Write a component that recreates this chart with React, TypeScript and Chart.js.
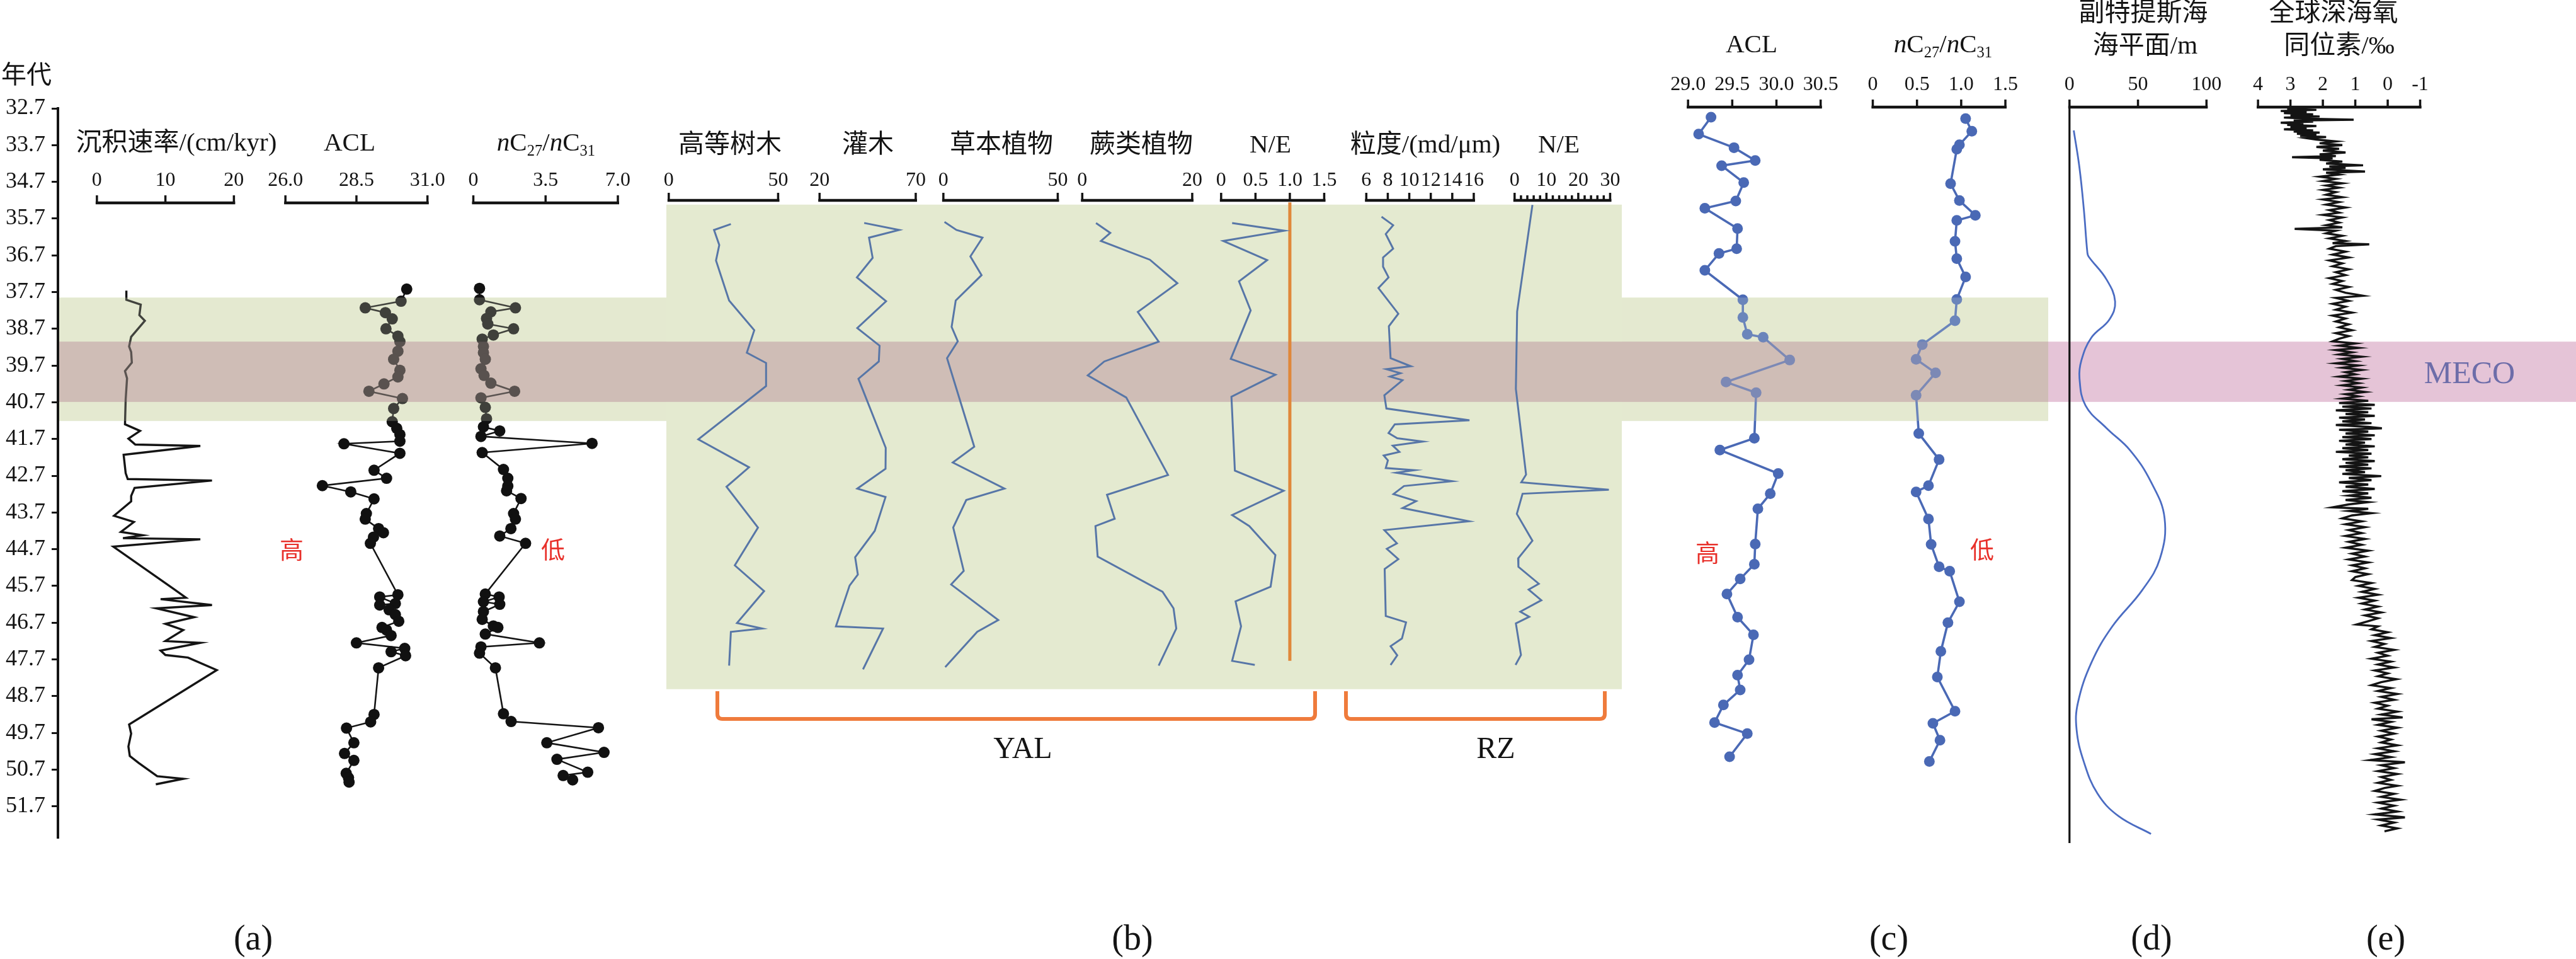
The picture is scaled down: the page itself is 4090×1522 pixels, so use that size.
import React, { useEffect, useRef } from "react";
import { Chart, registerables } from "chart.js";

Chart.register(...registerables);

const W = 4090;
const H = 1522;
const SERIF = '"Liberation Serif", "Times New Roman", "Noto Sans CJK SC", serif';

// ---------------- data (age in Ma, value) ----------------
const ageTicks = [32.7, 33.7, 34.7, 35.7, 36.7, 37.7, 38.7, 39.7, 40.7, 41.7, 42.7, 43.7, 44.7, 45.7, 46.7, 47.7, 48.7, 49.7, 50.7, 51.7];

const greenBand = [37.85, 41.21];
const mecoBand = [39.05, 40.69];
const yalBlock = [35.32, 48.51];

// (a) sedimentation rate, cm/kyr
const sedRate: [number, number][] = [
  [37.66, 4.3], [37.91, 4.3], [38.04, 6.4], [38.33, 6.2], [38.48, 7.0], [38.92, 5.0], [39.18, 4.7], [39.33, 5.0],
  [39.62, 5.1], [39.85, 4.1], [40.05, 4.4], [40.62, 4.2], [41.30, 4.1], [41.48, 6.3], [41.69, 4.6], [41.85, 5.6],
  [41.89, 15.1], [42.13, 3.9], [42.63, 4.2], [42.79, 4.5], [42.83, 16.8], [43.03, 5.5], [43.25, 5.0], [43.40, 5.0],
  [43.79, 2.5], [43.96, 5.4], [44.23, 3.5], [44.32, 6.7], [44.40, 3.8], [44.43, 15.1], [44.63, 2.4], [45.78, 11.2],
  [46.02, 13.0], [46.06, 9.3], [46.22, 16.8], [46.31, 8.7], [46.55, 14.2], [46.73, 10.0], [46.90, 12.6], [47.20, 10.0],
  [47.25, 15.1], [47.46, 9.3], [47.58, 10.0], [47.65, 13.3], [47.99, 17.5], [49.47, 4.7], [49.72, 5.0], [50.07, 4.6],
  [50.33, 4.8], [50.52, 6.1], [50.88, 8.8], [50.95, 12.6], [51.10, 8.6],
];

// (a) ACL
const aclA: [number, number][] = [
  [37.62, 30.27], [37.95, 30.07], [38.13, 28.81], [38.26, 29.52], [38.43, 29.76], [38.70, 29.54], [38.90, 29.96],
  [39.05, 30.03], [39.31, 29.96], [39.53, 29.81], [39.83, 30.03], [40.01, 29.96], [40.20, 29.47], [40.40, 28.94],
  [40.60, 30.12], [40.87, 29.81], [41.23, 29.76], [41.41, 29.92], [41.58, 30.03], [41.76, 30.03], [41.83, 28.06],
  [42.09, 30.03], [42.55, 29.12], [42.77, 29.56], [42.97, 27.30], [43.14, 28.30], [43.33, 29.12], [43.73, 28.85],
  [43.88, 28.81], [44.14, 29.28], [44.25, 29.45], [44.37, 29.10], [44.54, 28.99], [45.94, 29.96], [46.00, 29.32],
  [46.18, 29.87], [46.22, 29.32], [46.35, 29.65], [46.48, 29.87], [46.66, 29.99], [46.83, 29.40], [46.90, 29.56],
  [47.05, 29.72], [47.25, 28.50], [47.40, 30.20], [47.49, 29.72], [47.60, 30.23], [47.93, 29.28], [49.20, 29.12],
  [49.40, 29.00], [49.57, 28.15], [49.97, 28.41], [50.26, 28.08], [50.45, 28.41], [50.80, 28.14], [50.92, 28.22],
  [51.04, 28.24],
];

// (a) nC27/nC31
const ncA: [number, number][] = [
  [37.60, 0.30], [37.91, 0.30], [38.13, 2.04], [38.24, 0.85], [38.42, 0.64], [38.57, 0.70], [38.70, 1.95],
  [38.87, 0.97], [38.98, 0.43], [39.18, 0.49], [39.35, 0.49], [39.53, 0.58], [39.79, 0.37], [39.97, 0.52],
  [40.18, 0.85], [40.40, 2.00], [40.58, 0.37], [40.84, 0.58], [41.15, 0.64], [41.37, 0.49], [41.48, 1.28],
  [41.63, 0.37], [41.82, 5.75], [42.07, 0.43], [42.53, 1.46], [42.77, 1.67], [42.98, 1.67], [43.11, 1.61],
  [43.32, 2.31], [43.73, 1.95], [43.88, 2.04], [44.14, 1.82], [44.34, 1.28], [44.54, 2.53], [45.92, 0.58],
  [46.00, 1.25], [46.13, 0.49], [46.20, 1.28], [46.40, 0.49], [46.61, 0.43], [46.79, 0.97], [46.83, 1.19],
  [47.01, 0.58], [47.25, 3.20], [47.36, 0.37], [47.53, 0.30], [47.93, 1.07], [49.18, 1.46], [49.39, 1.83],
  [49.56, 6.06], [49.97, 3.56], [50.23, 6.33], [50.42, 4.05], [50.77, 5.54], [50.86, 4.35], [50.98, 4.81],
];

// (b) YAL pollen (%)
const trees: [number, number][] = [
  [35.85, 28.4], [36.01, 20.7], [36.42, 23.1], [36.84, 21.6], [37.93, 27.6], [38.74, 39.1], [39.35, 35.7],
  [39.63, 44.5], [40.26, 44.5], [41.71, 13.5], [42.47, 36.7], [43.00, 26.4], [44.11, 40.8], [45.14, 30.2],
  [45.84, 43.6], [46.71, 31.2], [46.86, 42.7], [46.95, 28.4], [47.87, 27.6],
];
const shrubs: [number, number][] = [
  [35.82, 43.2], [36.01, 61.4], [36.22, 45.7], [36.77, 47.6], [37.30, 39.4], [37.95, 54.6], [38.68, 39.6],
  [39.16, 51.2], [39.59, 50.8], [40.06, 40.2], [41.94, 54.4], [42.51, 54.3], [43.05, 39.6], [43.28, 54.3],
  [44.20, 48.7], [44.92, 38.5], [45.39, 39.9], [45.69, 35.6], [46.80, 28.5], [46.86, 53.0], [47.97, 42.6],
];
const herbs: [number, number][] = [
  [35.79, 0.5], [36.01, 5.7], [36.22, 17.1], [36.73, 11.8], [37.24, 16.7], [37.93, 5.4], [38.65, 3.6],
  [39.04, 6.3], [39.50, 1.6], [41.91, 13.5], [42.34, 4.1], [43.05, 26.7], [43.36, 10.0], [44.11, 4.3],
  [45.29, 8.9], [45.66, 3.4], [46.63, 24.0], [46.95, 14.8], [47.91, 0.8],
];
const ferns: [number, number][] = [
  [35.82, 2.5], [36.09, 5.1], [36.31, 3.4], [36.82, 12.3], [37.46, 17.3], [38.24, 10.1], [39.05, 13.9],
  [39.59, 4.0], [39.97, 1.0], [40.57, 8.0], [42.68, 15.6], [43.22, 4.5], [43.87, 5.9], [44.07, 2.4],
  [44.90, 2.8], [45.86, 14.6], [46.31, 16.6], [46.86, 17.1], [47.87, 13.9],
];
const neYal: [number, number][] = [
  [35.82, 0.16], [36.03, 0.92], [36.31, 0.03], [36.83, 0.67], [37.41, 0.26], [38.20, 0.43], [39.52, 0.14],
  [39.95, 0.79], [40.55, 0.15], [42.56, 0.20], [43.11, 0.91], [43.77, 0.16], [44.07, 0.41], [44.86, 0.79],
  [45.72, 0.72], [46.12, 0.21], [46.80, 0.29], [47.74, 0.16], [47.85, 0.49],
];
const neRefLine: [number, number][] = [[35.26, 1.0], [47.74, 1.0]];

// (b) RZ grain size (md/um) and N/E
const grain: [number, number][] = [
  [35.65, 7.42], [35.88, 8.50], [36.12, 7.81], [36.52, 8.50], [36.76, 7.56], [37.01, 7.56], [37.30, 8.07],
  [37.59, 7.13], [38.29, 8.98], [38.63, 8.10], [39.50, 8.26], [39.72, 10.15], [39.80, 7.87], [39.91, 9.18],
  [40.00, 8.20], [40.10, 9.37], [40.51, 7.68], [40.87, 7.87], [41.19, 15.60], [41.30, 8.65], [41.54, 8.07],
  [41.68, 8.88], [41.77, 11.26], [41.88, 8.46], [42.05, 9.08], [42.15, 7.62], [42.28, 8.01], [42.49, 7.81],
  [42.55, 10.48], [42.62, 8.79], [42.85, 13.99], [42.98, 9.51], [43.20, 8.53], [43.39, 10.64], [43.58, 9.37],
  [43.94, 15.55], [44.18, 7.68], [44.54, 8.85], [44.69, 7.91], [44.97, 8.98], [45.24, 7.71], [46.52, 7.81],
  [46.69, 9.70], [47.13, 9.32], [47.34, 8.26], [47.59, 8.88], [47.85, 8.26],
];
const neRz: [number, number][] = [
  [35.33, 5.6], [38.23, 0.8], [40.34, 0.4], [42.67, 3.6], [42.88, 2.1], [43.08, 29.6], [43.19, 2.5],
  [43.74, 0.7], [44.47, 5.6], [44.95, 1.1], [45.18, 1.2], [45.64, 7.6], [45.80, 4.4], [46.09, 8.4],
  [46.40, 1.8], [46.54, 4.6], [46.72, 0.4], [47.58, 2.0], [47.85, 0.3],
];

// (c) ACL and nC27/nC31
const aclC: [number, number][] = [
  [32.94, 29.26], [33.40, 29.12], [33.77, 29.52], [34.12, 29.76], [34.26, 29.38], [34.72, 29.63], [35.22, 29.54],
  [35.42, 29.19], [35.97, 29.56], [36.52, 29.55], [36.65, 29.35], [37.11, 29.19], [37.91, 29.62], [38.39, 29.62],
  [38.85, 29.67], [38.93, 29.85], [39.55, 30.15], [40.15, 29.43], [40.44, 29.77], [41.68, 29.75], [42.00, 29.36],
  [42.64, 30.02], [43.19, 29.93], [43.60, 29.79], [44.56, 29.76], [45.11, 29.75], [45.51, 29.59], [45.92, 29.44],
  [46.55, 29.56], [47.03, 29.74], [47.71, 29.69], [48.13, 29.56], [48.53, 29.59], [48.94, 29.40], [49.42, 29.30],
  [49.72, 29.67], [50.35, 29.47],
];
const ncC: [number, number][] = [
  [32.98, 1.05], [33.32, 1.12], [33.69, 0.98], [33.81, 0.95], [34.75, 0.88], [35.21, 0.98], [35.61, 1.16],
  [35.75, 0.95], [36.32, 0.93], [36.79, 0.95], [37.29, 1.05], [37.90, 0.95], [38.48, 0.93], [39.13, 0.56],
  [39.53, 0.49], [39.90, 0.71], [40.51, 0.49], [41.55, 0.52], [42.26, 0.75], [42.97, 0.63], [43.14, 0.49],
  [43.88, 0.63], [44.57, 0.66], [45.18, 0.75], [45.30, 0.87], [46.13, 0.98], [46.70, 0.85], [47.48, 0.77],
  [48.18, 0.73], [49.11, 0.93], [49.44, 0.68], [49.90, 0.76], [50.48, 0.64],
];

// (d) Paratethys sea level, m
const seaLevel: [number, number][] = [
  [33.30, 3.1], [34.32, 7.3], [35.46, 10.5], [36.61, 13.0], [36.73, 13.9], [37.35, 26.9], [37.96, 33.3],
  [38.45, 29.1], [38.94, 16.0], [39.56, 8.7], [40.05, 7.3], [40.79, 11.7], [41.40, 26.9], [42.01, 44.3],
  [42.87, 59.5], [43.85, 69.4], [44.96, 66.0], [45.82, 53.0], [46.80, 31.3], [47.78, 16.1], [48.89, 6.1],
  [49.62, 5.2], [50.48, 10.4], [51.35, 20.4], [51.96, 35.6], [52.45, 59.5],
];
const seaAxis: [number, number][] = [[32.67, 0], [52.70, 0]];

// (e) global deep-sea d18O, per mil
const d18O: [number, number][] = [
  [32.68, 2.6], [32.71, 3.1], [32.74, 2.2], [32.77, 3.3], [32.80, 2.5], [32.83, 3.2], [32.86, 2.3], [32.89, 3.0],
  [32.92, 2.1], [32.95, 3.2], [32.98, 2.4], [33.01, 1.05], [33.03, 2.9], [33.06, 2.3], [33.09, 3.3], [33.12, 2.6],
  [33.15, 3.1], [33.18, 2.2], [33.21, 3.0], [33.24, 2.5], [33.27, 3.2], [33.30, 2.3], [33.33, 2.9], [33.36, 2.1],
  [33.39, 2.8], [33.42, 2.2], [33.45, 2.7], [33.48, 1.9], [33.51, 2.5],
  [33.55, 2.2], [33.60, 1.6], [33.65, 2.1], [33.70, 1.4], [33.75, 2.2], [33.80, 1.5], [33.85, 2.0], [33.90, 1.3],
  [33.95, 2.1], [34.00, 1.6], [34.03, 2.95], [34.06, 1.7], [34.10, 2.1], [34.15, 1.4], [34.20, 1.9], [34.25, 0.76],
  [34.28, 1.8], [34.32, 1.3], [34.36, 2.0], [34.42, 0.70], [34.45, 1.9], [34.50, 1.5], [34.56, 2.1], [34.62, 1.6],
  [34.68, 2.0], [34.74, 1.4], [34.80, 1.9], [34.86, 1.5], [34.92, 2.0], [34.98, 1.6],
  [35.05, 1.9], [35.12, 1.4], [35.18, 2.0], [35.25, 1.5], [35.32, 1.9], [35.40, 1.3], [35.47, 1.8], [35.54, 1.5],
  [35.60, 2.0], [35.67, 1.4], [35.74, 1.8], [35.81, 1.5], [35.88, 1.9], [35.94, 1.4], [35.98, 2.87], [36.03, 1.6],
  [36.10, 1.9], [36.17, 1.4], [36.24, 1.8], [36.31, 1.3], [36.37, 1.7], [36.40, 0.57], [36.45, 1.6],
  [36.52, 1.8], [36.60, 1.3], [36.68, 1.7], [36.76, 1.2], [36.84, 1.8], [36.92, 1.4], [37.00, 1.7], [37.08, 1.2],
  [37.16, 1.6], [37.24, 1.3], [37.32, 1.8], [37.40, 1.4], [37.48, 1.7], [37.56, 1.2], [37.64, 1.6], [37.72, 1.3],
  [37.80, 0.76], [37.86, 1.6], [37.94, 1.2], [38.02, 1.7], [38.10, 1.3], [38.18, 1.6], [38.26, 1.1], [38.34, 1.7],
  [38.42, 1.3], [38.50, 1.6], [38.58, 1.2], [38.66, 1.5], [38.74, 1.1], [38.82, 1.6], [38.90, 1.2], [38.97, 1.5],
  [39.04, 1.7], [39.10, 1.0], [39.16, 1.5], [39.22, 0.9], [39.28, 1.6], [39.34, 1.1], [39.40, 1.5], [39.46, 0.8],
  [39.52, 1.4], [39.58, 1.0], [39.64, 1.6], [39.70, 0.9], [39.76, 1.4], [39.82, 0.8], [39.88, 1.3], [39.94, 1.0],
  [40.00, 1.5], [40.06, 0.8], [40.12, 1.3], [40.18, 0.9], [40.24, 1.4], [40.30, 0.8], [40.36, 1.2], [40.42, 0.7],
  [40.48, 1.3], [40.54, 0.9], [40.60, 1.4], [40.66, 0.6],
  [40.72, 1.5], [40.77, 0.4], [40.82, 1.4], [40.87, 0.5], [40.92, 1.6], [40.97, 0.6], [41.02, 1.3], [41.07, 0.4],
  [41.12, 1.5], [41.17, 0.7], [41.22, 1.4], [41.27, 0.5], [41.32, 1.6], [41.37, 0.6], [41.41, 0.18], [41.45, 1.5],
  [41.50, 0.6], [41.55, 1.3], [41.60, 0.4], [41.65, 1.4], [41.70, 0.5], [41.75, 1.5], [41.80, 0.7], [41.85, 1.3],
  [41.90, 0.4], [41.95, 1.4], [42.00, 0.6], [42.05, 1.6], [42.10, 0.5], [42.15, 1.2], [42.20, 0.6], [42.25, 1.4],
  [42.30, 0.4], [42.35, 1.3], [42.40, 0.6], [42.45, 1.5], [42.50, 0.5], [42.55, 1.3], [42.60, 0.7], [42.65, 1.4],
  [42.71, 0.20], [42.76, 1.2], [42.82, 0.5], [42.88, 1.5], [42.94, 0.6], [43.00, 1.3], [43.06, 0.4], [43.12, 1.4],
  [43.18, 0.6], [43.24, 1.2], [43.30, 0.5], [43.36, 1.3], [43.42, 0.6], [43.48, 1.2], [43.56, 1.7], [43.60, 0.6],
  [43.66, 1.2], [43.72, 0.5], [43.78, 1.1],
  [43.86, 1.4], [43.94, 0.8], [44.02, 1.3], [44.10, 0.7], [44.18, 1.2], [44.26, 0.8], [44.34, 1.3], [44.42, 0.7],
  [44.50, 1.2], [44.58, 0.8], [44.66, 1.3], [44.74, 0.6], [44.82, 1.1], [44.90, 0.7], [44.98, 1.2], [45.06, 0.6],
  [45.14, 1.1], [45.22, 0.7], [45.30, 1.1], [45.38, 0.6], [45.46, 1.0],
  [45.54, 1.1], [45.62, 0.5], [45.70, 0.9], [45.78, 0.4], [45.86, 0.8], [45.94, 0.3], [46.02, 0.9], [46.10, 0.4],
  [46.18, 0.8], [46.26, 0.3], [46.34, 0.7], [46.42, 0.2], [46.50, 0.7], [46.58, 0.3], [46.66, 0.6], [46.75, 0.96],
  [46.80, 0.3],
  [46.88, 0.5], [46.96, 0.0], [47.04, 0.4], [47.12, -0.1], [47.20, 0.5], [47.28, 0.1], [47.36, 0.4], [47.44, -0.2],
  [47.52, 0.3], [47.60, 0.0], [47.68, 0.5], [47.76, -0.1], [47.84, 0.3], [47.92, -0.2], [48.00, 0.4], [48.08, 0.0],
  [48.16, 0.3], [48.24, -0.27], [48.32, 0.2],
  [48.40, 0.5], [48.48, -0.1], [48.56, 0.3], [48.64, -0.3], [48.72, 0.2], [48.80, -0.2], [48.88, 0.4], [48.96, 0.0],
  [49.04, 0.3], [49.12, -0.3], [49.20, 0.2], [49.28, -0.46], [49.33, 0.5], [49.40, -0.1], [49.48, 0.3], [49.56, -0.3],
  [49.64, 0.2], [49.72, -0.2], [49.80, 0.3], [49.88, -0.1], [49.96, 0.2], [50.04, -0.3],
  [50.12, 0.3], [50.20, -0.2], [50.28, 0.4], [50.36, -0.1], [50.44, 0.54], [50.50, -0.53], [50.58, 0.2], [50.66, -0.2],
  [50.74, 0.3], [50.82, -0.3], [50.90, 0.2], [50.98, -0.1], [51.06, 0.3], [51.14, -0.3], [51.20, 0.1],
  [51.28, 0.4], [51.36, -0.2], [51.44, 0.2], [51.52, -0.4], [51.60, 0.3], [51.68, -0.2], [51.76, 0.2], [51.84, -0.3],
  [51.92, 0.4], [52.00, -0.53], [52.06, 0.3], [52.14, -0.2], [52.22, 0.2], [52.30, -0.3], [52.38, 0.1],
];

// ---------------- tick values / labels ----------------
const sedTicks = [0, 10, 20];
const sedTickLabels = ["0", "10", "20"];
const aclATicks = [26, 28.5, 31];
const aclATickLabels = ["26.0", "28.5", "31.0"];
const ncATicks = [0, 3.5, 7];
const ncATickLabels = ["0", "3.5", "7.0"];
const treeTicks = [0, 50];
const treeTickLabels = ["0", "50"];
const shrubTicks = [20, 70];
const shrubTickLabels = ["20", "70"];
const herbTicks = [0, 50];
const herbTickLabels = ["0", "50"];
const fernTicks = [0, 20];
const fernTickLabels = ["0", "20"];
const neYalTicks = [0, 0.5, 1, 1.5];
const neYalTickLabels = ["0", "0.5", "1.0", "1.5"];
const grainTicks = [6, 8, 10, 12, 14, 16];
const grainTickLabels = ["6", "8", "10", "12", "14", "16"];
const neRzTicks = [0, 10, 20, 30];
const neRzTickLabels = ["0", "10", "20", "30"];
const neRzMinor = [2, 4, 6, 8, 12, 14, 16, 18, 22, 24, 26, 28];
const aclCTicks = [29, 29.5, 30, 30.5];
const aclCTickLabels = ["29.0", "29.5", "30.0", "30.5"];
const ncCTicks = [0, 0.5, 1, 1.5];
const ncCTickLabels = ["0", "0.5", "1.0", "1.5"];
const seaTicks = [0, 50, 100];
const seaTickLabels = ["0", "50", "100"];
const oTicks = [4, 3, 2, 1, 0, -1];
const oTickLabels = ["4", "3", "2", "1", "0", "-1"];

// ---------------- layout ----------------
const AX_LEFT = 92;
const Y_TOP = 172;
const Y_BOTTOM = 1329;
const Y_MIN = 32.7;
const Y_MAX = 52.545;

type Col = {
  id: string; v0: number; v1: number; px0: number; px1: number;
  axisY: number; labelY: number; ticks: number[]; labels: string[]; minor?: number[];
};

const cols: Col[] = [
  { id: "xSed", v0: 0, v1: 20, px0: 154, px1: 372, axisY: 322, labelY: 287, ticks: sedTicks, labels: sedTickLabels },
  { id: "xAclA", v0: 26, v1: 31, px0: 454, px1: 680, axisY: 322, labelY: 287, ticks: aclATicks, labels: aclATickLabels },
  { id: "xNcA", v0: 0, v1: 7, px0: 753, px1: 983, axisY: 322, labelY: 287, ticks: ncATicks, labels: ncATickLabels },
  { id: "xTree", v0: 0, v1: 50, px0: 1064, px1: 1238, axisY: 318, labelY: 287, ticks: treeTicks, labels: treeTickLabels },
  { id: "xShrub", v0: 20, v1: 70, px0: 1304, px1: 1457, axisY: 318, labelY: 287, ticks: shrubTicks, labels: shrubTickLabels },
  { id: "xHerb", v0: 0, v1: 50, px0: 1501, px1: 1683, axisY: 318, labelY: 287, ticks: herbTicks, labels: herbTickLabels },
  { id: "xFern", v0: 0, v1: 20, px0: 1722, px1: 1897, axisY: 318, labelY: 287, ticks: fernTicks, labels: fernTickLabels },
  { id: "xNeY", v0: 0, v1: 1.5, px0: 1943, px1: 2107, axisY: 318, labelY: 287, ticks: neYalTicks, labels: neYalTickLabels },
  { id: "xGrain", v0: 6, v1: 16, px0: 2174, px1: 2345, axisY: 318, labelY: 287, ticks: grainTicks, labels: grainTickLabels },
  { id: "xNeR", v0: 0, v1: 30, px0: 2410, px1: 2562, axisY: 318, labelY: 287, ticks: neRzTicks, labels: neRzTickLabels, minor: neRzMinor },
  { id: "xAclC", v0: 29, v1: 30.5, px0: 2686, px1: 2897, axisY: 170, labelY: 135, ticks: aclCTicks, labels: aclCTickLabels },
  { id: "xNcC", v0: 0, v1: 1.5, px0: 2980, px1: 3191, axisY: 170, labelY: 135, ticks: ncCTicks, labels: ncCTickLabels },
  { id: "xSea", v0: 0, v1: 100, px0: 3293, px1: 3511, axisY: 170, labelY: 135, ticks: seaTicks, labels: seaTickLabels },
  { id: "xO", v0: 4, v1: -1, px0: 3593, px1: 3851, axisY: 170, labelY: 135, ticks: oTicks, labels: oTickLabels },
];

const GREEN = "#e4ead0";
const OVERLAP = "#cfbdb6";
const PINK = "#e5c4d7";
const BLUE_B = "#5776a7";
const BLUE_C = "#4a69b5";
const INK = "#141414";

function scaleFor(c: Col) {
  const s = (c.v1 - c.v0) / (c.px1 - c.px0);
  const a = c.v0 - (c.px0 - AX_LEFT) * s;
  const b = c.v1 + (W - c.px1) * s;
  if (a < b) return { type: "linear", display: false, min: a, max: b };
  return { type: "linear", display: false, min: b, max: a, reverse: true };
}

const pts = (arr: [number, number][]) => arr.map(([age, v]) => ({ x: v, y: age }));

type Seg = { t: string; it?: boolean; sub?: boolean };
const ncSegs: Seg[] = [
  { t: "n", it: true }, { t: "C" }, { t: "27", sub: true }, { t: "/" }, { t: "n", it: true }, { t: "C" }, { t: "31", sub: true },
];

function richText(ctx: CanvasRenderingContext2D, segs: Seg[], cx: number, cy: number, size: number) {
  const parts = segs.map((s) => {
    const sz = s.sub ? size * 0.6 : size;
    const font = `${s.it ? "italic " : ""}${sz}px ${SERIF}`;
    ctx.font = font;
    return { t: s.t, font, w: ctx.measureText(s.t).width, dy: s.sub ? size * 0.3 : 0 };
  });
  const total = parts.reduce((acc, p) => acc + p.w, 0);
  let x = cx - total / 2;
  ctx.textAlign = "left";
  ctx.textBaseline = "middle";
  for (const p of parts) {
    ctx.font = p.font;
    ctx.fillText(p.t, x, cy + p.dy);
    x += p.w;
  }
}

function text(ctx: CanvasRenderingContext2D, s: string, x: number, y: number, size: number, color = INK, align: CanvasTextAlign = "center") {
  ctx.font = `${size}px ${SERIF}`;
  ctx.fillStyle = color;
  ctx.textAlign = align;
  ctx.textBaseline = "middle";
  ctx.fillText(s, x, y);
}

function drawAxis(ctx: CanvasRenderingContext2D, chart: any, c: Col) {
  const sc = chart.scales[c.id];
  const xa = sc.getPixelForValue(c.v0);
  const xb = sc.getPixelForValue(c.v1);
  const l = Math.min(xa, xb);
  const r = Math.max(xa, xb);
  ctx.save();
  ctx.strokeStyle = INK;
  ctx.lineCap = "butt";
  ctx.lineWidth = 4.5;
  ctx.beginPath();
  ctx.moveTo(l - 2, c.axisY);
  ctx.lineTo(r + 2, c.axisY);
  ctx.stroke();
  ctx.lineWidth = 3.5;
  for (const v of c.minor || []) {
    const x = sc.getPixelForValue(v);
    ctx.beginPath();
    ctx.moveTo(x, c.axisY);
    ctx.lineTo(x, c.axisY - 8);
    ctx.stroke();
  }
  for (const v of c.ticks) {
    const x = sc.getPixelForValue(v);
    ctx.beginPath();
    ctx.moveTo(x, c.axisY + 2);
    ctx.lineTo(x, c.axisY - 12);
    ctx.stroke();
  }
  ctx.fillStyle = INK;
  c.ticks.forEach((v, i) => {
    text(ctx, c.labels[i], sc.getPixelForValue(v), c.labelY, 32);
  });
  ctx.restore();
}

function bracket(ctx: CanvasRenderingContext2D, x0: number, x1: number, yTop: number, yBot: number) {
  const rad = 8;
  ctx.beginPath();
  ctx.moveTo(x0, yTop);
  ctx.lineTo(x0, yBot - rad);
  ctx.quadraticCurveTo(x0, yBot, x0 + rad, yBot);
  ctx.lineTo(x1 - rad, yBot);
  ctx.quadraticCurveTo(x1, yBot, x1, yBot - rad);
  ctx.lineTo(x1, yTop);
  ctx.stroke();
}

const decor = {
  id: "decor",
  beforeDatasetsDraw(chart: any) {
    const { ctx } = chart;
    const y = chart.scales.y;
    const Y = (v: number) => y.getPixelForValue(v);
    ctx.save();
    ctx.fillStyle = GREEN;
    ctx.fillRect(1058, Y(yalBlock[0]), 2575 - 1058, Y(yalBlock[1]) - Y(yalBlock[0]));
    ctx.fillRect(94, Y(greenBand[0]), 3252 - 94, Y(greenBand[1]) - Y(greenBand[0]));
    ctx.fillStyle = OVERLAP;
    ctx.fillRect(94, Y(mecoBand[0]), 3252 - 94, Y(mecoBand[1]) - Y(mecoBand[0]));
    ctx.fillStyle = PINK;
    ctx.fillRect(3252, Y(mecoBand[0]), W - 3252, Y(mecoBand[1]) - Y(mecoBand[0]));
    ctx.restore();
  },
  afterDatasetsDraw(chart: any) {
    const { ctx } = chart;
    const y = chart.scales.y;
    const Y = (v: number) => y.getPixelForValue(v);
    ctx.save();
    // tint of the bands over the biomarker curves (a) and (c)
    for (const [x0, x1] of [[94, 1058], [2575, 3252]]) {
      ctx.fillStyle = "rgba(228,234,208,0.22)";
      ctx.fillRect(x0, Y(greenBand[0]), x1 - x0, Y(mecoBand[0]) - Y(greenBand[0]));
      ctx.fillRect(x0, Y(mecoBand[1]), x1 - x0, Y(greenBand[1]) - Y(mecoBand[1]));
      ctx.fillStyle = "rgba(207,189,182,0.38)";
      ctx.fillRect(x0, Y(mecoBand[0]), x1 - x0, Y(mecoBand[1]) - Y(mecoBand[0]));
    }
    // orange brackets
    ctx.strokeStyle = "#ef7b3c";
    ctx.lineWidth = 6;
    ctx.lineJoin = "round";
    bracket(ctx, 1139, 2088, 1097, 1141);
    bracket(ctx, 2137, 2548, 1097, 1141);
    text(ctx, "YAL", 1624, 1190, 48);
    text(ctx, "RZ", 2375, 1190, 48);

    // column axes
    for (const c of cols) drawAxis(ctx, chart, c);

    // titles
    text(ctx, "年代", 2, 121, 40, INK, "left");
    text(ctx, "沉积速率/(cm/kyr)", 280, 228, 41);
    text(ctx, "ACL", 555, 228, 41);
    ctx.fillStyle = INK;
    richText(ctx, ncSegs, 867, 228, 41);
    text(ctx, "高等树木", 1159, 231, 41);
    text(ctx, "灌木", 1378, 231, 41);
    text(ctx, "草本植物", 1590, 231, 41);
    text(ctx, "蕨类植物", 1812, 231, 41);
    text(ctx, "N/E", 2017, 231, 41);
    text(ctx, "粒度/(md/μm)", 2263, 231, 41);
    text(ctx, "N/E", 2475, 231, 41);
    text(ctx, "ACL", 2781, 72, 41);
    ctx.fillStyle = INK;
    richText(ctx, ncSegs, 3085, 72, 41);
    text(ctx, "副特提斯海", 3403, 22, 41);
    text(ctx, "海平面/m", 3406, 74, 41);
    text(ctx, "全球深海氧", 3705, 22, 41);
    text(ctx, "同位素/‰", 3714, 74, 41);

    // annotations
    const RED = "#e8302a";
    text(ctx, "高", 463, 876, 38, RED);
    text(ctx, "低", 878, 876, 38, RED);
    text(ctx, "高", 2711, 881, 38, RED);
    text(ctx, "低", 3147, 876, 38, RED);
    text(ctx, "MECO", 3921, 595, 50, "#6d6da9");

    // panel labels
    text(ctx, "(a)", 402, 1492, 56);
    text(ctx, "(b)", 1798, 1492, 56);
    text(ctx, "(c)", 2999, 1492, 56);
    text(ctx, "(d)", 3416, 1492, 56);
    text(ctx, "(e)", 3788, 1492, 56);
    ctx.restore();
  },
};

function lineDs(id: string, arr: [number, number][], color: string, width: number, extra: any = {}) {
  return {
    xAxisID: id,
    yAxisID: "y",
    data: pts(arr),
    borderColor: color,
    backgroundColor: color,
    borderWidth: width,
    pointRadius: 0,
    tension: 0,
    fill: false,
    ...extra,
  };
}

export default function App() {
  const ref = useRef<HTMLCanvasElement | null>(null);

  useEffect(() => {
    if (!ref.current) return;
    const scales: any = {
      y: {
        type: "linear",
        position: "left",
        reverse: true,
        min: Y_MIN,
        max: Y_MAX,
        afterFit: (s: any) => {
          s.width = AX_LEFT;
        },
        afterBuildTicks: (s: any) => {
          s.ticks = ageTicks.map((v) => ({ value: v }));
        },
        ticks: {
          font: { family: SERIF, size: 36 },
          color: INK,
          padding: 10,
          callback: (v: any) => Number(v).toFixed(1),
        },
        grid: {
          display: true,
          drawOnChartArea: false,
          drawTicks: true,
          tickLength: 10,
          tickWidth: 3,
          tickColor: INK,
          color: INK,
          lineWidth: 3,
        },
        border: { display: true, color: INK, width: 4 },
      },
    };
    for (const c of cols) scales[c.id] = scaleFor(c);

    const dot = (color: string, r: number) => ({ pointRadius: r, pointBorderWidth: 0, pointBackgroundColor: color, pointBorderColor: color });

    const datasets: any[] = [
      lineDs("xSed", sedRate, INK, 3.4),
      lineDs("xAclA", aclA, INK, 2.6, dot("#111", 9)),
      lineDs("xNcA", ncA, INK, 2.6, dot("#111", 9)),
      lineDs("xTree", trees, BLUE_B, 3),
      lineDs("xShrub", shrubs, BLUE_B, 3),
      lineDs("xHerb", herbs, BLUE_B, 3),
      lineDs("xFern", ferns, BLUE_B, 3),
      lineDs("xNeY", neYal, BLUE_B, 3),
      lineDs("xNeY", neRefLine, "#e0873a", 5),
      lineDs("xGrain", grain, BLUE_B, 3),
      lineDs("xNeR", neRz, BLUE_B, 3),
      lineDs("xAclC", aclC, BLUE_C, 3.6, dot(BLUE_C, 8.5)),
      lineDs("xNcC", ncC, BLUE_C, 3.6, dot(BLUE_C, 8.5)),
      lineDs("xSea", seaAxis, INK, 3.2, { clip: false }),
      lineDs("xSea", seaLevel, "#4b6cc2", 2.8, { tension: 0.4 }),
      lineDs("xO", d18O, INK, 3.4),
    ];

    const chart = new Chart(ref.current, {
      type: "line",
      data: { datasets },
      options: {
        animation: false,
        responsive: false,
        maintainAspectRatio: false,
        devicePixelRatio: 1,
        events: [],
        layout: { padding: { top: Y_TOP, bottom: H - Y_BOTTOM, left: 0, right: 0 } },
        plugins: { legend: { display: false }, tooltip: { enabled: false }, title: { display: false } },
        scales,
      } as any,
      plugins: [decor as any],
    });
    return () => chart.destroy();
  }, []);

  return (
    <div style={{ position: "fixed", left: 0, top: 0, width: W, height: H, background: "#fff" }}>
      <canvas ref={ref} width={W} height={H} style={{ display: "block", width: W, height: H }} />
    </div>
  );
}
